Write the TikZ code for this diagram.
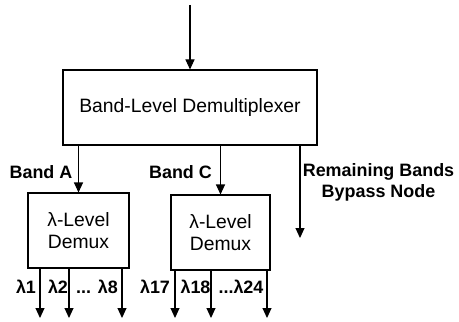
\documentclass[tikz,border=0pt]{standalone}
\usepackage{fontspec}
\setmainfont{Liberation Sans}
\usetikzlibrary{arrows.meta}

\begin{document}
\begin{tikzpicture}[->,>={Triangle[length=2mm,width=1.8mm]},line width=0.6pt,
  blk/.style={rectangle, draw, minimum height = 1.5cm},
  lab/.style={font=\bfseries\fontsize{10.2}{12}\selectfont},
  txt/.style={font=\fontsize{11}{12.5}\selectfont, align=center}]

  \useasboundingbox (0,0) rectangle (9.18,-6.44);

  \node[blk,
        minimum width = 5.08cm
        ] (bld) at (3.8,-2.15) {};
  \node[font=\fontsize{11}{13}\selectfont] at (bld.center) {Band-Level Demultiplexer};
  \coordinate (in) at (3.8,-0.1);

  \node[blk,
        minimum width = 2.02cm
        ] (dmxa) at (1.57,-4.61) {};
  \node[txt] at (dmxa.center) {λ-Level\\Demux};

  \node[blk,
        minimum width = 1.98cm
        ] (dmxc) at (4.41,-4.65) {};
  \node[txt] at (dmxc.center) {λ-Level\\Demux};

  \node[lab] (banda) at (0.82,-3.44) {Band A};
  \node[lab] (bandc) at (3.61,-3.44) {Band C};
  \node[lab, align=center] (remain) at (7.57,-3.65) {Remaining Bands\\Bypass Node};
  \coordinate (remout) at (6.0,-4.76);

  % channel outputs
  \coordinate (a1) at (0.8,-6.36);
  \coordinate (a2) at (1.38,-6.36);
  \coordinate (a3) at (2.44,-6.36);
  \coordinate (c1) at (3.5,-6.36);
  \coordinate (c2) at (4.22,-6.36);
  \coordinate (c3) at (5.34,-6.36);

  \node[lab] (la1) at (0.52,-5.74) {λ1};
  \node[lab] (la2) at (1.16,-5.74) {λ2};
  \node[lab] (la3) at (1.94,-5.74) {... λ8};
  \node[lab] (lc1) at (3.1,-5.74) {λ17};
  \node[lab] (lc2) at (3.91,-5.74) {λ18};
  \node[lab] (lc3) at (4.82,-5.74) {...λ24};

  \path
  (in) edge (bld.north)
  (bld.south -| dmxa.north) edge (dmxa.north)
  (bld.south -| dmxc.north) edge (dmxc.north)
  (bld.south -| remout) edge (remout)
  %band A
  (dmxa.south -| a1) edge (a1)
  (dmxa.south -| a2) edge (a2)
  (dmxa.south -| a3) edge (a3)
  %band C
  (dmxc.south -| c1) edge (c1)
  (dmxc.south -| c2) edge (c2)
  (dmxc.south -| c3) edge (c3);

\end{tikzpicture}
\end{document}
